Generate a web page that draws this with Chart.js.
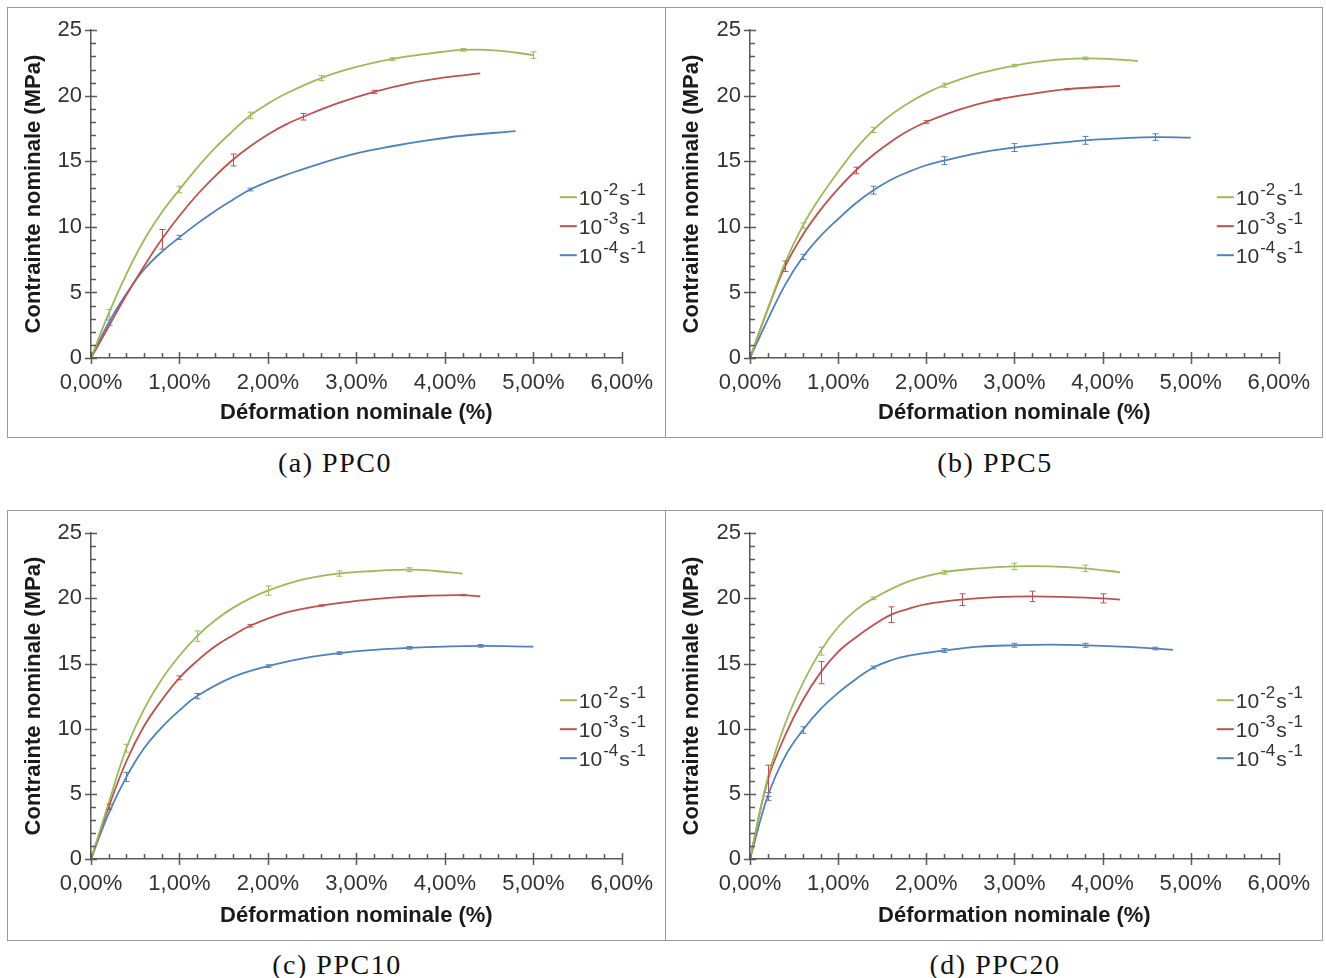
<!DOCTYPE html>
<html>
<head>
<meta charset="utf-8">
<script src="https://cdn.jsdelivr.net/npm/chart.js@4.4.1/dist/chart.umd.min.js"></script>
<style>
  html, body { margin: 0; padding: 0; background: #fff; }
  #wrap { position: relative; width: 1326px; height: 978px; background: #fff; overflow: hidden; }
  .panel { position: absolute; box-sizing: border-box; border: 1px solid #9a9a9a; }
  .panel canvas { position: absolute; left: 0; top: 0; }
  .cap { position: absolute; font-family: "Liberation Serif", serif; font-size: 28px; letter-spacing: 1.5px; color: #111;
         transform: translate(-50%, -50%); white-space: nowrap; }
</style>
</head>
<body>
<div id="wrap">
  <div class="panel" style="left:7px;top:7px;width:659px;height:431px"><canvas id="c0" width="657" height="429"></canvas></div>
  <div class="panel" style="left:665px;top:7px;width:658px;height:431px"><canvas id="c1" width="656" height="429"></canvas></div>
  <div class="panel" style="left:7px;top:510px;width:659px;height:431px"><canvas id="c2" width="657" height="429"></canvas></div>
  <div class="panel" style="left:665px;top:510px;width:658px;height:431px"><canvas id="c3" width="656" height="429"></canvas></div>
  <div class="cap" style="left:335px;top:463px">(a) PPC0</div>
  <div class="cap" style="left:995px;top:463px">(b) PPC5</div>
  <div class="cap" style="left:337px;top:965px">(c) PPC10</div>
  <div class="cap" style="left:995px;top:965px">(d) PPC20</div>
</div>
<script>
// ---------- DATA (x: déformation %, y: contrainte MPa) ----------
const xTickLabels = ['0,00%', '1,00%', '2,00%', '3,00%', '4,00%', '5,00%', '6,00%'];
const yTickLabels = ['0', '5', '10', '15', '20', '25'];
const rateLabels = [['10', '-2', 's', '-1'], ['10', '-3', 's', '-1'], ['10', '-4', 's', '-1']];

// PPC0
const ppc0_r2 = [[0,0],[0.2,3.4],[0.4,6.4],[0.6,9.0],[0.8,11.1],[1.0,12.85],[1.2,14.5],[1.4,16.0],[1.6,17.3],[1.8,18.5],[2.0,19.4],[2.2,20.15],[2.6,21.35],[3.0,22.2],[3.4,22.8],[3.8,23.2],[4.2,23.5],[4.6,23.45],[5.0,23.1]];
const ppc0_r3 = [[0,0],[0.2,2.4],[0.4,4.8],[0.6,7.0],[0.8,9.05],[1.0,10.85],[1.2,12.45],[1.4,13.85],[1.6,15.1],[1.8,16.15],[2.0,17.05],[2.2,17.8],[2.4,18.4],[2.8,19.45],[3.2,20.3],[3.6,20.95],[4.0,21.4],[4.4,21.7]];
const ppc0_r4 = [[0,0],[0.2,2.7],[0.4,4.9],[0.6,6.75],[0.8,8.1],[1.0,9.2],[1.2,10.25],[1.4,11.2],[1.6,12.05],[1.8,12.85],[2.0,13.45],[2.2,13.95],[2.6,14.85],[3.0,15.6],[3.4,16.15],[3.8,16.6],[4.2,16.95],[4.8,17.3]];
const ppc0_r2_err = [[0.2,0.3],[1.0,0.25],[1.8,0.25],[2.6,0.2],[3.4,0.1],[4.2,0.1],[5.0,0.25]];
const ppc0_r3_err = [[0.8,0.75],[1.6,0.45],[2.4,0.25],[3.2,0.12]];
const ppc0_r4_err = [[0.2,0.2],[1.0,0.15],[1.8,0.1]];

// PPC5
const ppc5_r2 = [[0,0],[0.2,3.7],[0.4,7.3],[0.6,10.1],[0.8,12.3],[1.0,14.2],[1.2,15.95],[1.4,17.4],[1.6,18.55],[1.8,19.45],[2.0,20.2],[2.2,20.8],[2.6,21.7],[3.0,22.3],[3.4,22.7],[3.8,22.85],[4.1,22.8],[4.4,22.65]];
const ppc5_r3 = [[0,0],[0.2,3.7],[0.4,7.0],[0.6,9.4],[0.8,11.3],[1.0,12.9],[1.2,14.3],[1.4,15.5],[1.6,16.5],[1.8,17.35],[2.0,18.0],[2.4,19.0],[2.8,19.7],[3.2,20.15],[3.6,20.5],[4.2,20.75]];
const ppc5_r4 = [[0,0],[0.2,2.9],[0.4,5.6],[0.6,7.7],[0.8,9.3],[1.0,10.6],[1.2,11.8],[1.4,12.8],[1.6,13.6],[1.8,14.2],[2.0,14.7],[2.2,15.05],[2.6,15.65],[3.0,16.05],[3.4,16.35],[3.8,16.6],[4.2,16.75],[4.6,16.85],[5.0,16.8]];
const ppc5_r2_err = [[0.6,0.2],[1.4,0.2],[2.2,0.15],[3.0,0.1],[3.8,0.1]];
const ppc5_r3_err = [[0.4,0.4],[1.2,0.25],[2.0,0.1],[2.8,0.05],[3.6,0.05]];
const ppc5_r4_err = [[0.6,0.2],[1.4,0.3],[2.2,0.3],[3.0,0.3],[3.8,0.3],[4.6,0.25]];

// PPC10
const ppc10_r2 = [[0,0],[0.2,4.3],[0.4,8.5],[0.6,11.5],[0.8,13.8],[1.0,15.6],[1.2,17.1],[1.4,18.3],[1.6,19.25],[1.8,20.0],[2.0,20.6],[2.4,21.45],[2.8,21.9],[3.2,22.1],[3.6,22.2],[3.9,22.1],[4.2,21.9]];
const ppc10_r3 = [[0,0],[0.2,4.0],[0.4,7.5],[0.6,10.2],[0.8,12.2],[1.0,13.9],[1.2,15.2],[1.4,16.3],[1.6,17.15],[1.8,17.9],[2.2,18.9],[2.6,19.45],[3.0,19.8],[3.4,20.05],[3.8,20.2],[4.2,20.25],[4.4,20.15]];
const ppc10_r4 = [[0,0],[0.2,3.5],[0.4,6.3],[0.6,8.5],[0.8,10.1],[1.0,11.4],[1.2,12.5],[1.6,13.95],[2.0,14.8],[2.4,15.4],[2.8,15.8],[3.2,16.05],[3.6,16.2],[4.0,16.3],[4.4,16.35],[5.0,16.3]];
const ppc10_r2_err = [[0.4,0.3],[1.2,0.4],[2.0,0.35],[2.8,0.2],[3.6,0.15]];
const ppc10_r3_err = [[0.2,0.2],[1.0,0.15],[1.8,0.1],[2.6,0.05],[4.2,0.05]];
const ppc10_r4_err = [[0.4,0.35],[1.2,0.2],[2.0,0.1],[2.8,0.1],[3.6,0.1],[4.4,0.1]];

// PPC20
const ppc20_r2 = [[0,0],[0.2,6.2],[0.4,10.4],[0.6,13.5],[0.8,15.95],[1.0,17.8],[1.2,19.1],[1.4,20.0],[1.8,21.3],[2.2,22.0],[2.6,22.3],[3.0,22.45],[3.4,22.45],[3.8,22.3],[4.2,22.0]];
const ppc20_r3 = [[0,0],[0.2,6.0],[0.4,9.5],[0.6,12.2],[0.8,14.3],[1.0,15.9],[1.2,17.0],[1.4,17.95],[1.6,18.75],[1.8,19.2],[2.0,19.55],[2.4,19.9],[2.8,20.1],[3.2,20.15],[3.6,20.1],[4.0,20.0],[4.2,19.9]];
const ppc20_r4 = [[0,0],[0.2,4.8],[0.4,7.9],[0.6,9.9],[0.8,11.5],[1.0,12.75],[1.2,13.8],[1.4,14.7],[1.6,15.25],[1.8,15.6],[2.2,16.0],[2.6,16.3],[3.0,16.4],[3.4,16.45],[3.8,16.4],[4.2,16.3],[4.6,16.15],[4.8,16.05]];
const ppc20_r2_err = [[0.8,0.3],[1.4,0.1],[2.2,0.15],[3.0,0.25],[3.8,0.25]];
const ppc20_r3_err = [[0.2,1.2],[0.8,0.85],[1.6,0.6],[2.4,0.45],[3.2,0.4],[4.0,0.35]];
const ppc20_r4_err = [[0.2,0.3],[0.6,0.25],[1.4,0.1],[2.2,0.15],[3.0,0.15],[3.8,0.15],[4.6,0.1]];

const seriesColors = ['#9BBB59', '#C0504D', '#4F81BD'];

// ---------- STYLE / LAYOUT ----------
const AXIS = '#595959';
const TICKTXT = '#333333';
const TITLETXT = '#1a1a1a';
const SANS = '"Liberation Sans", Arial, sans-serif';

const panels = [
  { id: 'c0', series: [ppc0_r2, ppc0_r3, ppc0_r4], errs: [ppc0_r2_err, ppc0_r3_err, ppc0_r4_err], left: 83, right: 41, top: 17, bottom: 350 },
  { id: 'c1', series: [ppc5_r2, ppc5_r3, ppc5_r4], errs: [ppc5_r2_err, ppc5_r3_err, ppc5_r4_err], left: 84, right: 42, top: 17, bottom: 350 },
  { id: 'c2', series: [ppc10_r2, ppc10_r3, ppc10_r4], errs: [ppc10_r2_err, ppc10_r3_err, ppc10_r4_err], left: 83, right: 41, top: 15, bottom: 348 },
  { id: 'c3', series: [ppc20_r2, ppc20_r3, ppc20_r4], errs: [ppc20_r2_err, ppc20_r3_err, ppc20_r4_err], left: 84, right: 42, top: 15, bottom: 348 }
];

const decoPlugin = {
  id: 'deco',
  afterDatasetsDraw(chart, args, opts) {
    const ctx = chart.ctx;
    const xs = chart.scales.x, ys = chart.scales.y;
    const ca = chart.chartArea;
    ctx.save();
    // error bars
    opts.errs.forEach((errList, si) => {
      const data = opts.series[si];
      ctx.strokeStyle = seriesColors[si];
      ctx.lineWidth = 1;
      errList.forEach(([ex, e]) => {
        const pt = data.find(p => Math.abs(p[0] - ex) < 1e-9);
        if (!pt) return;
        const px = Math.round(xs.getPixelForValue(ex)) + 0.5;
        const y1 = ys.getPixelForValue(pt[1] + e), y2 = ys.getPixelForValue(pt[1] - e);
        ctx.beginPath();
        ctx.moveTo(px, y1); ctx.lineTo(px, y2);
        ctx.moveTo(px - 3, y1); ctx.lineTo(px + 3, y1);
        ctx.moveTo(px - 3, y2); ctx.lineTo(px + 3, y2);
        ctx.stroke();
      });
    });
    // tick marks
    ctx.strokeStyle = AXIS;
    ctx.lineWidth = 1.5;
    ctx.beginPath();
    for (let v = 0; v <= 25; v += 1) {
      const py = Math.round(ys.getPixelForValue(v)) + 0.5;
      if (v % 5 === 0) { ctx.moveTo(ca.left - 6, py); ctx.lineTo(ca.left + 6, py); }
      else { ctx.moveTo(ca.left, py); ctx.lineTo(ca.left + 5, py); }
    }
    for (let i = 0; i <= 30; i++) {
      const px = Math.round(xs.getPixelForValue(i * 0.2)) + 0.5;
      if (i % 5 === 0) { ctx.moveTo(px, ca.bottom - 6); ctx.lineTo(px, ca.bottom + 6); }
      else { ctx.moveTo(px, ca.bottom); ctx.lineTo(px, ca.bottom - 5); }
    }
    ctx.stroke();
    // legend
    const lx = ca.right - 62;
    const rowsY = [167, 196, 225];
    rateLabels.forEach((parts, i) => {
      const y = ca.top + rowsY[i];
      ctx.strokeStyle = seriesColors[i];
      ctx.lineWidth = 2;
      ctx.beginPath(); ctx.moveTo(lx, y); ctx.lineTo(lx + 17, y); ctx.stroke();
      ctx.fillStyle = TICKTXT;
      ctx.textBaseline = 'alphabetic';
      ctx.textAlign = 'left';
      let x = lx + 19;
      const base = y + 7.5;
      ctx.font = '21px ' + SANS; ctx.fillText(parts[0], x, base); x += ctx.measureText(parts[0]).width + 1;
      ctx.font = '17px ' + SANS; ctx.fillText(parts[1], x, base - 10); x += ctx.measureText(parts[1]).width + 1;
      ctx.font = '21px ' + SANS; ctx.fillText(parts[2], x, base); x += ctx.measureText(parts[2]).width + 1;
      ctx.font = '17px ' + SANS; ctx.fillText(parts[3], x, base - 10);
    });
    ctx.restore();
  }
};

panels.forEach(p => {
  const canvas = document.getElementById(p.id);
  const H = canvas.height;
  new Chart(canvas, {
    type: 'line',
    data: {
      datasets: p.series.map((s, i) => ({
        label: rateLabels[i].join(''),
        data: s.map(([x, y]) => ({ x, y })),
        borderColor: seriesColors[i],
        backgroundColor: seriesColors[i],
        borderWidth: 1.8,
        pointRadius: 0,
        fill: false,
        tension: 0.4
      }))
    },
    options: {
      responsive: false,
      animation: false,
      devicePixelRatio: 1,
      layout: { padding: { left: 0, top: p.top, right: p.right, bottom: 0 } },
      plugins: {
        legend: { display: false },
        tooltip: { enabled: false },
        deco: { series: p.series, errs: p.errs }
      },
      scales: {
        x: {
          type: 'linear', min: 0, max: 6,
          afterFit: (sc) => { sc.height = H - p.bottom; },
          grid: { display: true, drawOnChartArea: false, drawTicks: false },
          border: { display: true, color: AXIS, width: 1.5 },
          ticks: { stepSize: 1, padding: 12, color: TICKTXT, font: { family: SANS, size: 22 },
                   maxRotation: 0, callback: (v) => xTickLabels[Math.round(v)] },
          title: { display: true, text: 'Déformation nominale (%)', color: TITLETXT,
                   font: { family: SANS, size: 22, weight: 'bold' }, padding: { top: 0, bottom: 11 } }
        },
        y: {
          type: 'linear', min: 0, max: 25,
          afterFit: (sc) => { sc.width = p.left; },
          grid: { display: true, drawOnChartArea: false, drawTicks: false },
          border: { display: true, color: AXIS, width: 1.5 },
          ticks: { stepSize: 5, padding: 9, color: TICKTXT, font: { family: SANS, size: 22 },
                   callback: (v) => yTickLabels[Math.round(v / 5)] },
          title: { display: true, text: 'Contrainte nominale (MPa)', color: TITLETXT,
                   font: { family: SANS, size: 22, weight: 'bold' }, padding: { top: 13, bottom: 0 } }
        }
      }
    },
    plugins: [decoPlugin]
  });
});
</script>
</body>
</html>
